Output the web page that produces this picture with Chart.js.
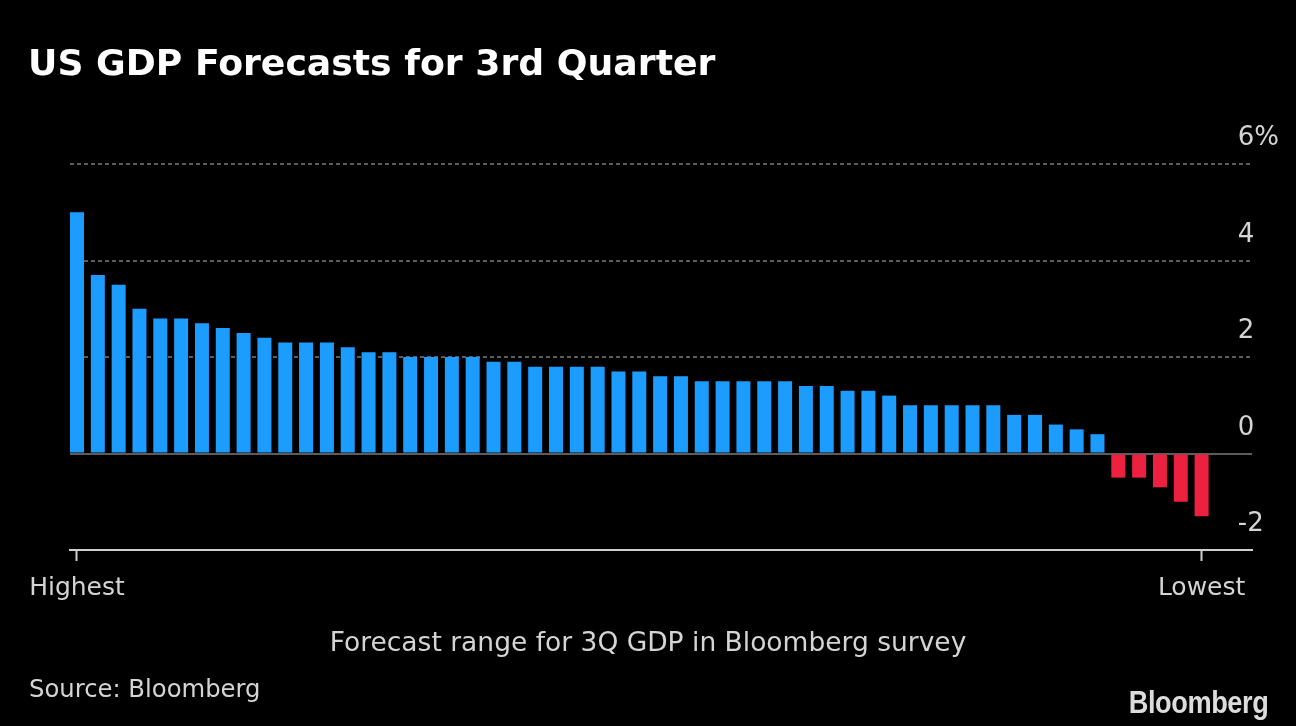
<!DOCTYPE html>
<html>
<head>
<meta charset="utf-8">
<script src="https://cdn.jsdelivr.net/npm/chart.js@4.4.1/dist/chart.umd.min.js"></script>
<style>
html, body { margin:0; padding:0; background:#000; }
#wrap { position:relative; width:1296px; height:726px; background:#000; overflow:hidden; font-family:"DejaVu Sans", sans-serif; }
#c { position:absolute; left:0; top:0; }
.t { position:absolute; white-space:nowrap; line-height:1; }
</style>
</head>
<body>
<div id="wrap">
  <canvas id="c" width="1296" height="726"></canvas>
  <div class="t" style="left:28px; top:45px; font-size:36.2px; font-weight:bold; color:#ffffff;">US GDP Forecasts for 3rd Quarter</div>
  <div class="t" style="left:0; width:1296px; text-align:center; top:629px; font-size:26.5px; color:#d4d4d4;">Forecast range for 3Q GDP in Bloomberg survey</div>
  <div class="t" style="left:29px; top:677px; font-size:24.3px; color:#d4d4d4;">Source: Bloomberg</div>
  <div class="t" style="right:28px; top:686px; font-family:'Liberation Sans', Arial, sans-serif; font-weight:bold; font-size:32px; color:#dcdcdc; transform:scaleX(0.85); transform-origin:right top; letter-spacing:-0.5px;">Bloomberg</div>
</div>
<script>
// ---- data ----
const forecasts = [
  5.0, 3.7, 3.5, 3.0, 2.8, 2.8, 2.7, 2.6, 2.5, 2.4,
  2.3, 2.3, 2.3, 2.2, 2.1, 2.1, 2.0, 2.0, 2.0, 2.0,
  1.9, 1.9, 1.8, 1.8, 1.8, 1.8, 1.7, 1.7, 1.6, 1.6,
  1.5, 1.5, 1.5, 1.5, 1.5, 1.4, 1.4, 1.3, 1.3, 1.2,
  1.0, 1.0, 1.0, 1.0, 1.0, 0.8, 0.8, 0.6, 0.5, 0.4,
  -0.5, -0.5, -0.7, -1.0, -1.3
];
const forecastRanks = forecasts.map((_, i) => i);
const xTickPositions = [0, forecasts.length - 1];
const xTickLabels = ['Highest', 'Lowest'];
const yTickValues = [-2, 0, 2, 4, 6];
const yTickLabels = ['-2', '0', '2', '4', '6%'];

const POS_COLOR = '#1c9cff';
const NEG_COLOR = '#ec2140';
const labelColor = '#d4d4d4';
const tickFont = { family: 'DejaVu Sans', size: 26 };

const points = forecastRanks.map((r, i) => ({ x: r, y: forecasts[i] }));

new Chart(document.getElementById('c'), {
  type: 'bar',
  data: {
    datasets: [{
      data: points,
      backgroundColor: forecasts.map(v => v < 0 ? NEG_COLOR : POS_COLOR),
      borderWidth: 0,
      barPercentage: 0.672,
      categoryPercentage: 1.0,
      yAxisID: 'y'
    }]
  },
  options: {
    responsive: false,
    animation: false,
    devicePixelRatio: 1,
    layout: { padding: { left: 70, right: 44, top: 164, bottom: 111 } },
    plugins: { legend: { display: false }, tooltip: { enabled: false } },
    scales: {
      x: {
        type: 'linear',
        position: 'bottom',
        offset: false,
        min: -0.336,
        max: 56.42,
        afterBuildTicks: (s) => { s.ticks = xTickPositions.map(v => ({ value: v })); },
        ticks: {
          autoSkip: false,
          maxRotation: 0,
          padding: 12,
          color: labelColor,
          font: { family: 'DejaVu Sans', size: 25 },
          callback: (v) => { const k = xTickPositions.indexOf(v); return k >= 0 ? xTickLabels[k] : ''; }
        },
        grid: { offset: false, drawOnChartArea: false, drawTicks: true, tickLength: 11, tickColor: '#cfcfcf', tickWidth: 2 },
        border: { display: true, color: '#cfcfcf', width: 2 }
      },
      y: {
        type: 'linear',
        position: 'right',
        min: -2,
        max: 6,
        afterBuildTicks: (s) => { s.ticks = yTickValues.map(v => ({ value: v })); },
        afterFit: (s) => { s.width = 0; },
        ticks: {
          mirror: true,
          crossAlign: 'far',
          padding: 27,
          labelOffset: -25.5,
          color: labelColor,
          font: tickFont,
          callback: (v) => { const k = yTickValues.indexOf(v); return k >= 0 ? yTickLabels[k] : ''; }
        },
        grid: {
          drawTicks: false,
          color: (ctx) => (ctx.tick && ctx.tick.value > 0) ? '#5c5c5c' : 'rgba(0,0,0,0)',
          lineWidth: 2
        },
        border: { display: false, dash: [4, 3] }
      },
      y0: {
        type: 'linear',
        position: 'right',
        min: -2,
        max: 6,
        afterBuildTicks: (s) => { s.ticks = yTickValues.map(v => ({ value: v })); },
        afterFit: (s) => { s.width = 0; },
        ticks: { display: false },
        grid: {
          drawTicks: false,
          color: (ctx) => (ctx.tick && ctx.tick.value === 0) ? '#5c5c5c' : 'rgba(0,0,0,0)',
          lineWidth: 2
        },
        border: { display: false }
      }
    }
  }
});
</script>
</body>
</html>
